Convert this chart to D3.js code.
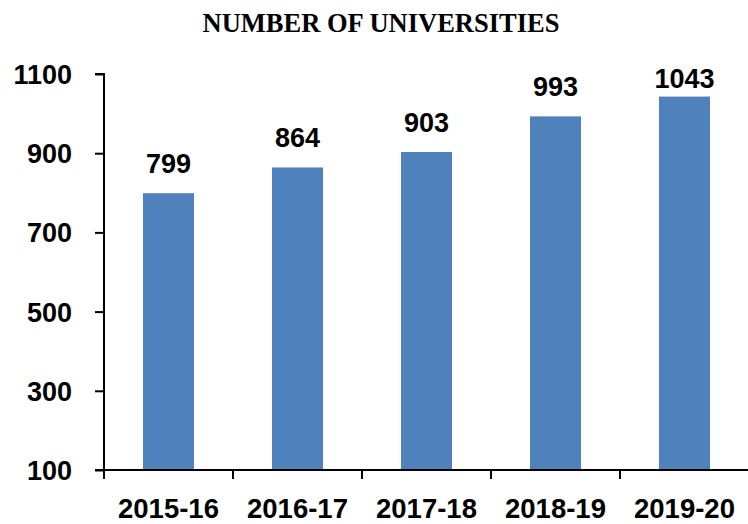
<!DOCTYPE html>
<html><head><meta charset="utf-8">
<script src="https://cdn.jsdelivr.net/npm/d3@7"></script>
<style>body{margin:0;background:#fff}</style>
</head><body>
<svg id="chart" width="748" height="524"></svg>
<script>
const categories = ["2015-16","2016-17","2017-18","2018-19","2019-20"];
const values = [799, 864, 903, 993, 1043];
const yTicks = [100, 300, 500, 700, 900, 1100];
const title = "NUMBER OF UNIVERSITIES";

(function(){
const svg = d3.select("#chart");
const mLeft = 104, mRight = 749, mTop = 74, mBottom = 470;
const xb = d3.scaleBand().domain(categories).range([mLeft, mRight]);
const y = d3.scaleLinear().domain([100, 1100]).range([mBottom, mTop]);

svg.append("text").attr("x", 381).attr("y", 32).attr("text-anchor", "middle")
  .attr("font-family", "Liberation Serif, Times New Roman, serif").attr("font-weight", "bold")
  .attr("font-size", 26.5).text(title);

svg.selectAll("rect.bar").data(values).join("rect").attr("class","bar")
  .attr("x", (d,i) => xb(categories[i]) + xb.bandwidth()/2 - 25.5)
  .attr("width", 51)
  .attr("y", d => y(d)).attr("height", d => y(100) - y(d))
  .attr("fill", "#4F81BD");

const labelFont = "Liberation Sans, Arial, sans-serif";
svg.selectAll("text.val").data(values).join("text").attr("class","val")
  .attr("x", (d,i) => xb(categories[i]) + xb.bandwidth()/2)
  .attr("y", d => Math.max(y(d) - 20, 88))
  .attr("text-anchor", "middle").attr("font-family", labelFont).attr("font-weight", "bold")
  .attr("font-size", 27).text(d => d);

const yAxis = svg.append("g").attr("transform", `translate(${mLeft},0)`)
  .call(d3.axisLeft(y).tickValues(yTicks).tickFormat(d3.format("d")).tickSize(9).tickPadding(23));
yAxis.select(".domain").attr("stroke", "#000").attr("stroke-width", 2).attr("d", `M-9,${mTop}H0V${mBottom}`);
yAxis.selectAll(".tick line").attr("stroke-width", 2);
yAxis.selectAll(".tick text").attr("font-family", labelFont).attr("font-weight", "bold").attr("font-size", 27).attr("fill", "#000").attr("dy", "0.35em");

const xAxisG = svg.append("g").attr("transform", `translate(0,${mBottom})`);
xAxisG.append("line").attr("x1", mLeft - 9).attr("x2", mRight).attr("stroke", "#000").attr("stroke-width", 2);
const bounds = categories.map(c => xb(c)).concat([xb(categories[categories.length-1]) + xb.bandwidth()]);
xAxisG.selectAll("line.tk").data(bounds).join("line").attr("class","tk")
  .attr("x1", d => d).attr("x2", d => d).attr("y1", 0).attr("y2", 9)
  .attr("stroke", "#000").attr("stroke-width", 2);
xAxisG.selectAll("text").data(categories).join("text")
  .attr("x", d => xb(d) + xb.bandwidth()/2).attr("y", 48)
  .attr("text-anchor", "middle").attr("font-family", labelFont).attr("font-weight", "bold")
  .attr("font-size", 27.5).text(d => d);
})();
</script>
</body></html>
